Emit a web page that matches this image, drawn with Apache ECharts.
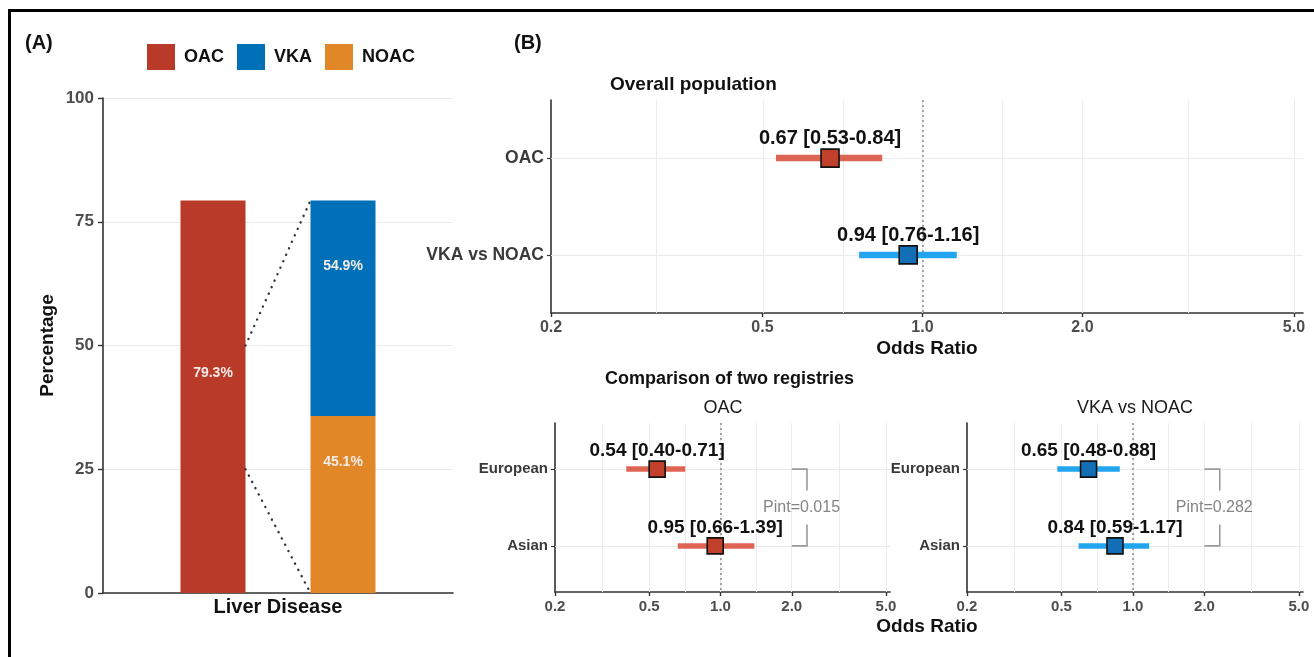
<!DOCTYPE html>
<html><head><meta charset="utf-8">
<script src="https://cdn.jsdelivr.net/npm/echarts@6/dist/echarts.min.js"></script>
<style>html,body{margin:0;padding:0;background:#fff}#c{width:1314px;height:657px}</style>
</head><body><div id="c"></div>
<script>
// ---------- Panel A data ----------
const barCategory = ['Liver Disease'];
const oacPct = [79.3];          // % on OAC
const vkaShare = [54.9];        // % of OAC users on VKA
const noacShare = [45.1];       // % of OAC users on NOAC
const yTicksA = [0, 25, 50, 75, 100];
// dotted connectors: [value on OAC bar, value on VKA/NOAC bar]
const connectorFrom = [50, 25];

// ---------- Panel B data ----------
const overallRows = ['OAC', 'VKA vs NOAC'];
const overallOR = [0.67, 0.94];
const overallLo = [0.53, 0.76];
const overallHi = [0.84, 1.16];

const registryRows = ['European', 'Asian'];
const oacRegOR = [0.54, 0.95];
const oacRegLo = [0.40, 0.66];
const oacRegHi = [0.71, 1.39];
const vkaRegOR = [0.65, 0.84];
const vkaRegLo = [0.48, 0.59];
const vkaRegHi = [0.88, 1.17];
const pintLabels = ['Pint=0.015', 'Pint=0.282'];

const xTicks = [0.2, 0.5, 1.0, 2.0, 5.0];
const xMinor = [0.316, 0.707, 1.414, 3.162];

// ---------- styles ----------
const FF = '"Liberation Sans", Arial, Helvetica, sans-serif';
const RED = '#b93a28', BLUE = '#0070b8', ORANGE = '#e18728';
const CI_RED = '#de6553', CI_BLUE = '#22a5ef';
const PT_RED = '#c0402c', PT_BLUE = '#136fb5';
const AXIS = '#333333', GRIDC = '#ebebeb', TICKC = '#4d4d4d';
const XMIN = Math.log10(0.2), XMAX = 0.716;
const L = Math.log10;

const total = oacPct[0];
const vkaVal = total * vkaShare[0] / 100;
const noacVal = total * noacShare[0] / 100;
const connectorTo = [total, 0];

const chart = echarts.init(document.getElementById('c'), null, {renderer: 'canvas'});

function forestAxes(g, rows, tickSize, rowSize, withName) {
  const x = {
    type: 'value', gridIndex: g, min: XMIN, max: XMAX,
    splitLine: {show: false},
    axisLine: {onZero: false, lineStyle: {color: AXIS, width: 1.6}},
    axisTick: {show: true, customValues: xTicks.map(L), length: 4, lineStyle: {color: AXIS, width: 1.4}},
    axisLabel: {customValues: xTicks.map(L), formatter: v => Math.pow(10, v).toFixed(1),
      fontSize: tickSize, fontWeight: 'bold', color: TICKC, margin: 7, fontFamily: FF}
  };
  if (withName) {
    Object.assign(x, {name: 'Odds Ratio', nameLocation: 'middle', nameGap: 26,
      nameTextStyle: {fontSize: 19, fontWeight: 'bold', color: '#111', fontFamily: FF}});
  }
  const y = {
    type: 'value', gridIndex: g, min: 0.4, max: 2.6, inverse: true,
    splitLine: {show: false},
    axisLine: {onZero: false, lineStyle: {color: AXIS, width: 1.6}},
    axisTick: {show: true, customValues: [1, 2], length: 4, lineStyle: {color: AXIS, width: 1.2}},
    axisLabel: {customValues: [1, 2], formatter: v => rows[Math.round(v) - 1],
      fontSize: rowSize, fontWeight: 'bold', color: '#3a3a3a', margin: 7, fontFamily: FF}
  };
  return [x, y];
}

function forestSeries(ax, rows, or, lo, hi, ciColors, ptColors, ciW, ptSize, lblSize) {
  const grid = {
    type: 'scatter', xAxisIndex: ax, yAxisIndex: ax, data: [], z: 1, silent: true,
    markLine: {
      silent: true, z: 1, symbol: ['none', 'none'], label: {show: false}, animation: false,
      data: xTicks.slice(1).concat(xMinor).map(v => ({xAxis: L(v), lineStyle: {color: GRIDC, width: 1, type: 'solid'}}))
        .concat(rows.map((r, k) => ({yAxis: k + 1, lineStyle: {color: GRIDC, width: 1.2, type: 'solid'}})))
        .concat([{xAxis: L(1.0), lineStyle: {color: '#8a8a8a', width: 1.5, type: [2, 3]}}])
    }
  };
  const ci = {
    type: 'custom', xAxisIndex: ax, yAxisIndex: ax, z: 3, silent: true,
    data: rows.map((r, k) => [L(lo[k]), L(hi[k]), k + 1]),
    encode: {x: [0, 1], y: 2},
    renderItem: (params, api) => {
      const a = api.coord([api.value(0), api.value(2)]);
      const b = api.coord([api.value(1), api.value(2)]);
      return {type: 'line', shape: {x1: a[0], y1: a[1], x2: b[0], y2: b[1]},
        style: {stroke: ciColors[params.dataIndex], lineWidth: ciW}};
    }
  };
  const pts = {
    type: 'scatter', xAxisIndex: ax, yAxisIndex: ax, z: 4, symbol: 'rect', symbolSize: ptSize,
    data: rows.map((r, k) => ({value: [L(or[k]), k + 1], itemStyle: {color: ptColors[k]}})),
    itemStyle: {borderColor: '#111', borderWidth: 1.6, opacity: 1},
    label: {show: true, position: 'top', distance: 0,
      formatter: p => or[p.dataIndex].toFixed(2) + ' [' + lo[p.dataIndex].toFixed(2) + '-' + hi[p.dataIndex].toFixed(2) + ']',
      fontSize: lblSize, fontWeight: 'bold', color: '#111', fontFamily: FF}
  };
  return [grid, ci, pts];
}

function pintSeries(ax, text) {
  return {
    type: 'custom', xAxisIndex: ax, yAxisIndex: ax, z: 2, silent: true,
    data: [[L(2.0), 1.5]],
    encode: {x: 0, y: 1},
    renderItem: (params, api) => {
      const p = (x, y) => api.coord([L(x), y]);
      const s = {stroke: '#9a9a9a', lineWidth: 1.6, fill: null};
      const top = [p(2.0, 1), p(2.32, 1), p(2.32, 1.28)];
      const bot = [p(2.32, 1.72), p(2.32, 2), p(2.0, 2)];
      const t = p(2.2, 1.5);
      return {type: 'group', children: [
        {type: 'polyline', shape: {points: top}, style: s},
        {type: 'polyline', shape: {points: bot}, style: s},
        {type: 'text', style: {text: text, x: t[0], y: t[1], align: 'center', verticalAlign: 'middle',
          fill: '#858585', fontSize: 16, fontFamily: FF}}
      ]};
    }
  };
}

const fa1 = forestAxes(1, overallRows, 16, 17.5, true);
const fa2 = forestAxes(2, registryRows, 15, 15, false);
const fa3 = forestAxes(3, registryRows, 15, 15, false);

const labelA = {show: true, position: 'inside', color: '#f4ece9', fontSize: 14, fontWeight: 'bold', fontFamily: FF};

function txt(text, x, y, size, weight, align, color) {
  return {type: 'text', x: x, y: y, silent: true,
    style: {text: text, fontSize: size, fontWeight: weight || 'bold', fontFamily: FF,
      fill: color || '#111', align: align || 'left', verticalAlign: 'middle'}};
}

const option = {
  animation: false,
  textStyle: {fontFamily: FF},
  legend: {
    data: ['OAC', 'VKA', 'NOAC'], left: 142, top: 39, icon: 'rect',
    itemWidth: 28, itemHeight: 26, itemGap: 13, selectedMode: false,
    textStyle: {fontSize: 18, fontWeight: 'bold', color: '#111', padding: [0, 0, 0, 4], fontFamily: FF}
  },
  grid: [
    {left: 103, top: 98, width: 350, height: 495},
    {left: 551, top: 100, width: 752, height: 213},
    {left: 555, top: 423, width: 335, height: 169},
    {left: 967, top: 423, width: 336, height: 169}
  ],
  xAxis: [
    {type: 'category', gridIndex: 0, data: barCategory,
      axisLine: {onZero: false, lineStyle: {color: AXIS, width: 1.6}}, axisTick: {show: false},
      axisLabel: {show: false},
      name: barCategory[0], nameLocation: 'middle', nameGap: 4,
      nameTextStyle: {fontSize: 20, fontWeight: 'bold', color: '#111', fontFamily: FF}},
    fa1[0], fa2[0], fa3[0]
  ],
  yAxis: [
    {type: 'value', gridIndex: 0, min: yTicksA[0], max: yTicksA[yTicksA.length - 1], interval: 25,
      axisLine: {show: true, onZero: false, lineStyle: {color: AXIS, width: 1.6}},
      axisTick: {show: true, length: 5, lineStyle: {color: AXIS, width: 1.4}},
      axisLabel: {fontSize: 17, fontWeight: 'bold', color: TICKC, margin: 9, fontFamily: FF},
      splitLine: {lineStyle: {color: GRIDC, width: 1}},
      name: 'Percentage', nameLocation: 'middle', nameGap: 46,
      nameTextStyle: {fontSize: 19, fontWeight: 'bold', color: '#111', fontFamily: FF}},
    fa1[1], fa2[1], fa3[1]
  ],
  series: [
    {name: 'OAC', type: 'bar', xAxisIndex: 0, yAxisIndex: 0, stack: 'a', barWidth: 65, barGap: '100%',
      data: [total], itemStyle: {color: RED},
      label: Object.assign({}, labelA, {offset: [0, -24], formatter: () => oacPct[0].toFixed(1) + '%'})},
    {name: 'NOAC', type: 'bar', xAxisIndex: 0, yAxisIndex: 0, stack: 'b', barWidth: 65, barGap: '100%',
      data: [noacVal], itemStyle: {color: ORANGE},
      label: Object.assign({}, labelA, {offset: [0, -42], formatter: () => noacShare[0].toFixed(1) + '%'})},
    {name: 'VKA', type: 'bar', xAxisIndex: 0, yAxisIndex: 0, stack: 'b', barWidth: 65, barGap: '100%',
      data: [vkaVal], itemStyle: {color: BLUE},
      label: Object.assign({}, labelA, {offset: [0, -42], formatter: () => vkaShare[0].toFixed(1) + '%'})},
    {type: 'custom', xAxisIndex: 0, yAxisIndex: 0, z: 5, silent: true,
      data: connectorFrom.map((v, k) => [0, v, connectorTo[k]]),
      encode: {x: 0, y: [1, 2]},
      renderItem: (params, api) => {
        const a = api.coord([0, api.value(1)]);
        const b = api.coord([0, api.value(2)]);
        return {type: 'line', shape: {x1: a[0] - 32.5, y1: a[1], x2: b[0] + 32.5, y2: b[1]},
          style: {stroke: '#333', lineWidth: 2.4, lineDash: [0.1, 7], lineCap: 'round'}};
      }},
    ...forestSeries(1, overallRows, overallOR, overallLo, overallHi, [CI_RED, CI_BLUE], [PT_RED, PT_BLUE], 6.5, 18, 20),
    ...forestSeries(2, registryRows, oacRegOR, oacRegLo, oacRegHi, [CI_RED, CI_RED], [PT_RED, PT_RED], 5.5, 16, 19),
    ...forestSeries(3, registryRows, vkaRegOR, vkaRegLo, vkaRegHi, [CI_BLUE, CI_BLUE], [PT_BLUE, PT_BLUE], 5.5, 16, 19),
    pintSeries(2, pintLabels[0]),
    pintSeries(3, pintLabels[1])
  ],
  graphic: [
    {type: 'line', silent: true, shape: {x1: 8, y1: 10.5, x2: 1314, y2: 10.5}, style: {stroke: '#000', lineWidth: 3}},
    {type: 'line', silent: true, shape: {x1: 9.5, y1: 9, x2: 9.5, y2: 657}, style: {stroke: '#000', lineWidth: 3}},
    txt('(A)', 25, 43, 20),
    txt('(B)', 514, 43, 20),
    txt('Overall population', 610, 85, 19),
    txt('Comparison of two registries', 605, 379, 18),
    txt('OAC', 723, 408, 18, 'normal', 'center', '#1a1a1a'),
    txt('VKA vs NOAC', 1135, 408, 18, 'normal', 'center', '#1a1a1a'),
    txt('Odds Ratio', 927, 627, 19, 'bold', 'center')
  ]
};
chart.setOption(option);
</script>
</body></html>
